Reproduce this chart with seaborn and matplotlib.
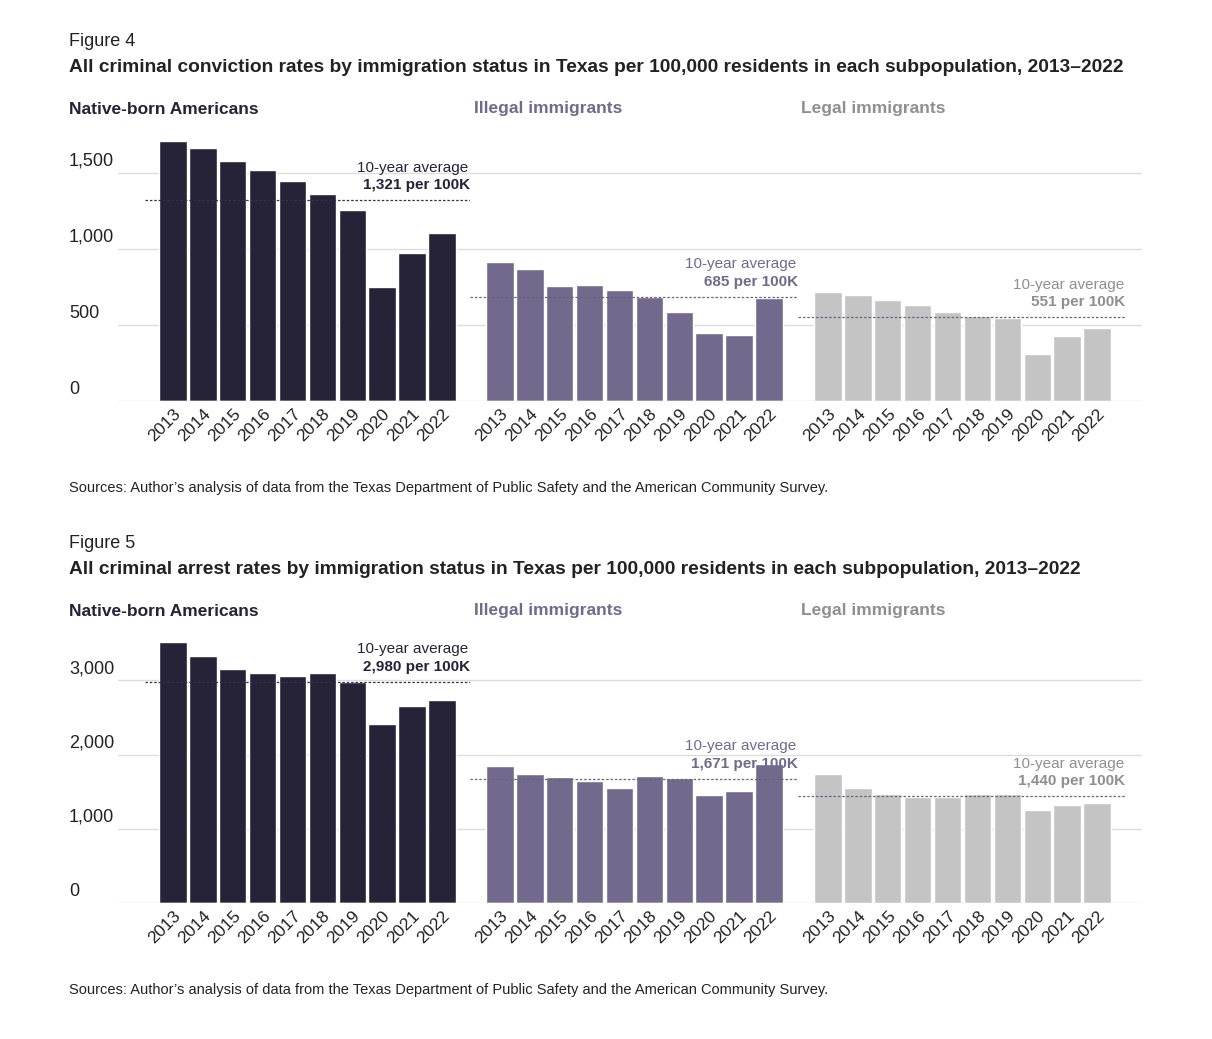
import matplotlib.pyplot as plt
import seaborn as sns
from matplotlib.transforms import blended_transform_factory

sns.set_style("white")
plt.rcParams['font.family'] = ['Liberation Sans', 'DejaVu Sans']

years = [str(y) for y in range(2013, 2023)]
groups = ['Native-born Americans', 'Illegal immigrants', 'Legal immigrants']
colors = ['#262338', '#716a8c', '#c4c4c4']
label_colors = ['#262338', '#716a8c', '#8f8f8f']

# Figure 4: conviction rates
conv_native = [1711, 1664, 1579, 1520, 1447, 1362, 1257, 750, 974, 1105]
conv_illegal = [914, 868, 757, 763, 730, 684, 586, 447, 434, 678]
conv_legal = [717, 697, 664, 632, 586, 559, 546, 309, 428, 480]
conv_avg = [1321, 685, 551]
conv_avg_labels = ['1,321 per 100K', '685 per 100K', '551 per 100K']
conv_ticks = [0, 500, 1000, 1500]
conv_ticklabels = ['0', '500', '1,000', '1,500']

# Figure 5: arrest rates
arr_native = [3514, 3333, 3153, 3097, 3056, 3097, 2972, 2417, 2653, 2736]
arr_illegal = [1847, 1736, 1694, 1639, 1556, 1708, 1681, 1458, 1514, 1875]
arr_legal = [1736, 1556, 1472, 1431, 1431, 1472, 1472, 1250, 1319, 1347]
arr_avg = [2980, 1671, 1440]
arr_avg_labels = ['2,980 per 100K', '1,671 per 100K', '1,440 per 100K']
arr_ticks = [0, 1000, 2000, 3000]
arr_ticklabels = ['0', '1,000', '2,000', '3,000']

W, H = 1212, 1039
fig = plt.figure(figsize=(W / 100, H / 100), dpi=100)

# pixel layout of panels: (left, right, xlim, avg line x-range)
panels = [(118, 470, (-1.84, 9.94), (-0.94, 9.94)),
          (470, 798, (-1.0, 9.97), (-1.0, 9.97)),
          (798, 1142, (-1.0, 10.5), (-1.0, 9.94))]


def px_ax(l, r, top, bottom):
    return fig.add_axes([l / W, 1 - bottom / H, (r - l) / W, (bottom - top) / H])


def draw_figure(y0, num, title, series, avgs, avg_labels, ticks, ticklabels, ymax):
    fig.text(69 / W, 1 - (y0 + 8) / H, num, fontsize=13, color='#222222', va='center')
    fig.text(69 / W, 1 - (y0 + 35) / H, title, fontsize=13.8, fontweight='bold',
             color='#222222', va='center')
    sub_x = [69, 474, 801]
    for i, g in enumerate(groups):
        fig.text(sub_x[i] / W, 1 - (y0 + 76) / H, g, fontsize=12.5, fontweight='bold',
                 color=label_colors[i], va='center')
    top, bottom = y0 + 98, y0 + 368
    for i, (l, r, xl, avx) in enumerate(panels):
        ax = px_ax(l, r, top, bottom)
        sns.barplot(x=years, y=series[i], ax=ax, color=colors[i], saturation=1,
                    width=0.92, zorder=3)
        ax.set_xlim(*xl)
        ax.set_ylim(0, ymax)
        for t in ticks[1:]:
            ax.axhline(t, color='#dddddd', lw=1, zorder=1)
        ax.axhline(0, color='#dddddd', lw=1, zorder=4)
        ax.plot(avx, [avgs[i]] * 2, ls=(0, (2, 1.5)), color='#333344' if i == 0 else '#666677',
                lw=0.9, zorder=5)
        tc = label_colors[i]
        ax.text(avx[1], avgs[i] + ymax * 0.03, avg_labels[i], ha='right', va='bottom',
                fontsize=11, fontweight='bold', color=tc, zorder=6)
        ax.text(avx[1] - 0.05, avgs[i] + ymax * 0.095, '10-year average', ha='right',
                va='bottom', fontsize=11, color=tc, zorder=6)
        ax.set_yticks([])
        ax.set_xlabel('')
        ax.set_ylabel('')
        ax.tick_params(axis='x', length=0, pad=4)
        plt.setp(ax.get_xticklabels(), rotation=45, ha='right', rotation_mode='anchor',
                 fontsize=12.5, color='#222222')
        for s in ax.spines.values():
            s.set_visible(False)
        ax.patch.set_alpha(0)
        if i == 0:
            tr = blended_transform_factory(fig.transFigure, ax.transData)
            for t, tl in zip(ticks, ticklabels):
                ax.text(69 / W, t + ymax * 0.012, tl, transform=tr, clip_on=False,
                        fontsize=13, color='#222222', va='bottom', ha='left')
    fig.text(69 / W, 1 - (y0 + 455) / H,
             'Sources: Author\u2019s analysis of data from the Texas Department of Public Safety '
             'and the American Community Survey.', fontsize=10.5, color='#222222', va='center')


draw_figure(33, 'Figure 4',
            'All criminal conviction rates by immigration status in Texas per 100,000 residents '
            'in each subpopulation, 2013\u20132022',
            [conv_native, conv_illegal, conv_legal], conv_avg, conv_avg_labels,
            conv_ticks, conv_ticklabels, 1776)
draw_figure(535, 'Figure 5',
            'All criminal arrest rates by immigration status in Texas per 100,000 residents '
            'in each subpopulation, 2013\u20132022',
            [arr_native, arr_illegal, arr_legal], arr_avg, arr_avg_labels,
            arr_ticks, arr_ticklabels, 3639)

fig.savefig('out.png', dpi=100)
